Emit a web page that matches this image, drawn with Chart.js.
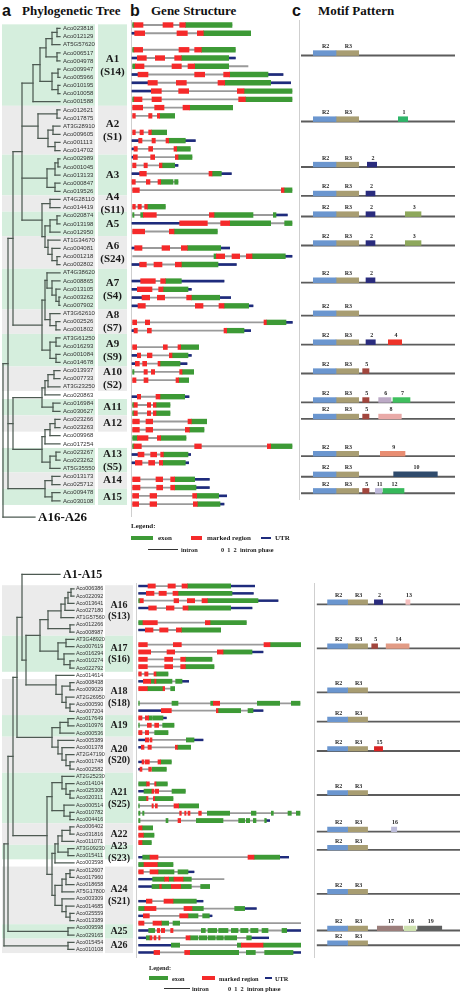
<!DOCTYPE html>
<html>
<head>
<meta charset="utf-8">
<title>Phylogenetic tree, gene structure and motif pattern</title>
<script src="https://cdn.jsdelivr.net/npm/chart.js@4.4.1/dist/chart.umd.min.js"></script>
<style>
  html, body { margin: 0; padding: 0; background: #fff; }
  body { position: relative; width: 461px; height: 992px; overflow: hidden; }
  canvas { position: absolute; }
  .txt { position: absolute; white-space: nowrap; line-height: 1; color: #111; }
  .letter { font: bold 16px "Liberation Sans", Arial, sans-serif; }
  .head { font: bold 13px "Liberation Serif", "Times New Roman", serif; }
  .leg { font: bold 7px "Liberation Serif", serif; color: #222; }
  .legs { font: bold 6.3px "Liberation Serif", serif; color: #222; }
  .sw { position: absolute; }
  .vline { position: absolute; width: 1.6px; background: #cfcfcf; }
</style>
</head>
<body>
<div class="txt letter" style="left:2px;top:1.5px">a</div>
<div class="txt head" style="left:22px;top:3px">Phylogenetic Tree</div>
<div class="txt letter" style="left:130px;top:1.5px">b</div>
<div class="txt head" style="left:151px;top:2.5px">Gene Structure</div>
<div class="txt letter" style="left:292px;top:1.5px">c</div>
<div class="txt head" style="left:318px;top:2.5px">Motif Pattern</div>

<div class="vline" style="left:130.5px;top:20px;height:497px"></div>
<div class="vline" style="left:298.5px;top:20px;height:480px"></div>
<div class="vline" style="left:135.5px;top:583px;height:375px"></div>
<div class="vline" style="left:313.5px;top:583px;height:375px"></div>

<canvas id="treeTop" width="128" height="520" style="left:0;top:13px"></canvas>
<canvas id="geneTop" width="173" height="520" style="left:128px;top:13px"></canvas>
<canvas id="motifTop" width="171" height="520" style="left:290px;top:13px"></canvas>
<canvas id="treeBot" width="134" height="407" style="left:0;top:560px"></canvas>
<canvas id="geneBot" width="173" height="407" style="left:128px;top:560px"></canvas>
<canvas id="motifBot" width="171" height="407" style="left:290px;top:560px"></canvas>

<!-- legend, top panel -->
<div class="txt leg" style="left:131px;top:521.5px">Legend:</div>
<div class="sw" style="left:131px;top:535.5px;width:22px;height:4.5px;background:#3d9a36"></div>
<div class="txt leg" style="left:158px;top:534.2px">exon</div>
<div class="sw" style="left:191px;top:535.5px;width:11px;height:4.5px;background:#f52a2a"></div>
<div class="txt leg" style="left:207px;top:534.2px">marked region</div>
<div class="sw" style="left:261px;top:537px;width:10px;height:1.8px;background:#1e2b7d"></div>
<div class="txt leg" style="left:275px;top:534.2px">UTR</div>
<div class="sw" style="left:148px;top:548.5px;width:30px;height:1px;background:#333"></div>
<div class="txt legs" style="left:181px;top:545.7px">intron</div>
<div class="txt legs" style="left:221px;top:545.7px">0&nbsp;&nbsp;1&nbsp;&nbsp;2&nbsp;&nbsp;intron phase</div>

<!-- legend, bottom panel -->
<div class="txt legs" style="left:149px;top:963.5px">Legend:</div>
<div class="sw" style="left:149px;top:976px;width:19px;height:4px;background:#3d9a36"></div>
<div class="txt legs" style="left:172px;top:975px">exon</div>
<div class="sw" style="left:202px;top:976px;width:13px;height:4px;background:#f52a2a"></div>
<div class="txt legs" style="left:219px;top:975px">marked region</div>
<div class="sw" style="left:265px;top:977.3px;width:7px;height:1.6px;background:#1e2b7d"></div>
<div class="txt legs" style="left:275px;top:975px">UTR</div>
<div class="sw" style="left:164px;top:988px;width:26px;height:1px;background:#333"></div>
<div class="txt legs" style="left:192px;top:985px">intron</div>
<div class="txt legs" style="left:228px;top:985px">0&nbsp;&nbsp;1&nbsp;&nbsp;2&nbsp;&nbsp;intron phase</div>

<script>
// ---------------- data: top panel (A1-A15) ----------------
const topNames = [
  'Aco023818','Aco012129','AT5G57620','Aco006517','Aco004978','Aco009947','Aco005966','Aco010195','Aco010058','Aco001588',
  'Aco012621','Aco017875','AT3G28910','Aco009605','Aco001113','Aco014702',
  'Aco002989','Aco001045','Aco013133','Aco000847','Aco019526',
  'AT4G28110','Aco014419',
  'Aco020874','Aco013198','Aco012950',
  'AT1G34670','Aco004081','Aco001218','Aco002802',
  'AT4G38620','Aco008865','Aco013105','Aco003262','Aco007902',
  'AT3G62610','Aco002526','Aco001802',
  'AT3G61250','Aco016293','Aco001084','Aco014678',
  'Aco013937','Aco007733','AT3G23250',
  'Aco020863','Aco016984','Aco030627',
  'Aco023266','Aco023263','Aco009968','Aco017254',
  'Aco023267','Aco023262','AT5G35550',
  'Aco013173','Aco025712','Aco009478','Aco030108'
];

// gene parts: u = UTR, e = exon, m = marked region, l = intron only
const topGeneParts = [
  'e14-18 m18-45 m105-135 m155-172 e172-312',
  'u12-20 m20-50 m147-178 m208-226 e226-368',
  '',
  'e14-18 m18-44 m153-183 m200-220 e220-322',
  'u12-28 m28-55 m82-110 m140-160 e160-302 u302-322',
  'e14-22 m22-48 m132-160 m180-200 e200-302 l302-360',
  'u12-30 m30-60 m200-230 m287-305 e305-420 u420-465',
  'u12-60 m60-88 m145-175 m270-290 e290-428 u428-488',
  'u12-70 m70-100 m152-182 m328-348 e348-492',
  'e14-18 m18-42 m72-100 m332-352 e352-492',
  'm14-44 m80-108 m165-185 e185-314',
  'm14-22 m62-72 m88-95 e95-140',
  '',
  'm14-22 m36-46 m62-70 e70-116',
  'u12-32 m32-42 m72-82 m114-122 e122-172 u172-202',
  'u12-18 m18-28 m62-74 m138-146 e146-187',
  'u12-16 m16-28 m68-80 m142-150 e150-192',
  'm14-24 m48-58 m94-102 e102-140 u140-150',
  'u12-35 m35-55 m243-252 e252-280 u280-310',
  'm12-22 m55-66 m90-98 e98-135 e140-150',
  'm14-34 m460-468 e468-492',
  '',
  'm14-22 m30-40 m50-58 e58-112',
  'e14-18 e38-46 m46-85 m244-258 e258-375 e436-444 u444-478',
  'u12-155 m155-238 m278-305 e305-428 e470-492',
  'm14-50 m124-138 e138-268',
  '',
  'u12-20 m20-42 m102-125 m160-178 e178-278 u278-305',
  'l14-258 e258-265 m265-290 m312-335 m355-372 e372-472 u472-492',
  'u12-35 m35-55 m78-102 m142-160 e160-270 u270-325',
  '',
  'u12-38 m38-82 m98-112 e112-160 u160-288',
  'u12-28 m28-72 m92-105 e105-180 u180-190',
  'u12-42 m42-65 m88-110 m176-190 e190-275 u275-308',
  'u12-30 m30-52 m202-225 m273-288 e288-362 u362-375',
  '',
  'm14-26 m52-65 m408-415 e415-474 u474-493',
  'u12-18 m18-28 m58-70 m288-296 e296-348 u348-368',
  '',
  'm14-26 m106-118 m150-158 e158-212',
  'u12-28 m28-38 m58-72 m124-132 e132-180 u180-190',
  'u12-22 m22-34 m44-56 m90-96 e96-156 u156-177',
  'e14-18 m48-58 m70-80 m155-162 e162-197',
  'm14-24 m48-60 m144-152 e152-182',
  '',
  'u12-28 m28-38 m84-96 e96-170 u170-183',
  'e14-18 m18-28 m58-68 m76-84 e84-126',
  'e14-18 m18-28 m58-68 m76-84 e84-126',
  'm14-34 m54-74 m180-190 e190-236',
  'm14-34 m54-74 m172-184 e184-228',
  'e14-28 m28-60 m88-98 e98-174',
  'e14-18 m18-40 m200-220 m418-428 e428-492',
  'u12-30 m30-48 m68-86 m98-106 e106-180 u180-188',
  'u12-22 m22-42 m62-80 m94-104 e104-172 u172-182',
  '',
  'm14-36 m84-104 m128-140 e140-200 u200-244',
  'm14-36 m86-104 m128-140 e140-204 u204-244',
  'm14-32 m66-86 m194-206 e206-272 u272-296',
  'm14-32 m66-86 m196-208 e208-276 u276-288'
];

// tree nodes: [node depth, ...children]; leaves are gene names
const topTree =
  [3,
    [8,
      [13,
        [22,
          [33,
            [40,
              [46, [52, [57, 'Aco023818', 'Aco012129'], 'AT5G57620'], [57, 'Aco006517', 'Aco004978']],
              [52, [58, 'Aco009947', 'Aco005966'], [58, 'Aco010195', 'Aco010058']]],
            'Aco001588'],
          [38, [57, 'Aco012621', 'Aco017875'], [48, [53, 'AT3G28910', 'Aco009605'], [55, 'Aco001113', 'Aco014702']]],
          [47, [55, [58, 'Aco002989', 'Aco001045'], 'Aco013133'], [55, 'Aco000847', 'Aco019526']],
          [42, [50, 'AT4G28110', 'Aco014419'],
            [45, [50, [57, 'Aco020874', 'Aco013198'], 'Aco012950'],
              [48, 'AT1G34670', [52, 'Aco004081', [57, 'Aco001218', 'Aco002802']]]]]],
        [42,
          [45, [47, 'AT4G38620', [52, 'Aco008865', [56, 'Aco013105', [59, 'Aco003262', 'Aco007902']]]],
            [50, 'AT3G62610', [56, 'Aco002526', 'Aco001802']]],
          [50, [56, 'AT3G61250', 'Aco016293'], [56, 'Aco001084', 'Aco014678']]]],
      [13,
        [42, [45, [48, [54, 'Aco013937', 'Aco007733'], 'AT3G23250'], 'Aco020863'], [53, 'Aco016984', 'Aco030627']],
        [42, [45, [50, [55, 'Aco023266', 'Aco023263'], 'Aco009968'], 'Aco017254'],
          [50, [56, 'Aco023267', 'Aco023262'], 'AT5G35550']]],
      [45, [52, 'Aco013173', 'Aco025712'], [52, 'Aco009478', 'Aco030108']]],
    'A16-A26'];

const topCladeName  = ['A1','A2','A3','A4','A5','A6','A7','A8','A9','A10','A11','A12','A13','A14','A15'];
const topCladeSub   = ['(S14)','(S1)','','(S11)','','(S24)','(S4)','(S7)','(S9)','(S2)','','','(S5)','',''];
const topCladeFirst = [0, 10, 16, 21, 23, 26, 30, 35, 38, 42, 46, 48, 52, 55, 57];
const topCladeLast  = [9, 15, 20, 22, 25, 29, 34, 37, 41, 44, 47, 49, 54, 56, 58];

const topMotifTrack = [1, 2, 3, 4, 4, 5, 5, 6, 8, 8, 9, 10, 10, 10, 11, 11, 12, 13, 14, 14, 14];
const topMotifName  = ['1','2','2','2','3','2','3','2','2','4','5','5','6','7','5','8','9','10','5','11','12'];
const topMotifStart = [292, 199, 195, 195, 313, 195, 313, 195, 195, 262, 185, 185, 233, 276, 185, 233, 238, 278, 185, 223, 246];
const topMotifEnd   = [320, 227, 222, 222, 360, 222, 360, 222, 223, 302, 204, 204, 270, 327, 204, 301, 312, 409, 204, 243, 309];

// ---------------- data: bottom panel (A16-A26) ----------------
const botNames = [
  'Aco006386','Aco022092','Aco013641','Aco027180','AT1G57560','Aco012266','Aco008987',
  'AT3G48920','Aco007619','Aco016294','Aco010274','Aco022792',
  'Aco014614',
  'Aco008438','Aco009029','AT2G26950','Aco000590','Aco007204',
  'Aco017649','Aco010976','Aco000536',
  'Aco005389','Aco001378','AT2G47190','Aco001748','Aco002582',
  'AT2G25230','Aco014104','Aco025308','Aco020311','Aco000514','Aco010782','Aco004416',
  'Aco006402','Aco031816','Aco011071',
  'AT3G09230','Aco015411',
  'Aco003598',
  'Aco012607','Aco017960','Aco018658','AT5G17800','Aco003309','Aco014685','Aco025559','Aco013389',
  'Aco009598','Aco029165',
  'Aco015454','Aco010108'
];

const botGeneParts = [
  'u32-60 m60-82 m120-142 m162-178 e178-308 u308-380',
  'u32-55 m55-78 m93-115 m135-150 e150-312 u312-376',
  'e32-36 m36-46 m138-152 m178-200 m222-238 e238-390 u390-450',
  'u32-62 m62-85 m115-138 m165-180 e180-308 u308-372',
  '',
  'e32-45 m45-88 m232-246 e246-355',
  'u32-52 m52-75 m95-120 m145-160 e160-278',
  '',
  'm32-58 m136-160 m408-426 e426-518',
  'm32-68 m117-140 m268-285 e285-372 u372-405',
  'm32-58 m110-134 m158-172 e172-252',
  'm32-58 m110-134 m158-172 e172-258',
  'm32-40 m50-60 m78-84 e84-120',
  'u32-46 m46-68 e68-80 m80-84 e84-132 e143-162 u162-182',
  'm32-58 e58-105 m105-110 e128-140',
  '',
  'e32-34 e132-150 e248-256 m256-275 e388-455 e490-516',
  'u32-100 m100-130 m265-270 e270-338 e360-375 u375-405',
  'm32-42 m52-62 e62-72 e74-105 u105-115',
  'e32-34 m58-70 m80-92 e104-138',
  'm32-42 m52-62 e80-120',
  'u32-52 m52-62 m66-72 e175-198 u198-225',
  'u32-40 m40-48 m60-70 m142-148 e148-188',
  '',
  'u32-42 m42-48 m52-64 m90-98 e98-130',
  'u32-36 m36-42 m62-70 e72-115',
  '',
  'e32-56 m56-64 m80-84 e84-118',
  'u32-48 e48-72 m72-78 m82-92 e132-172',
  'e32-56 m56-60 m76-80 e80-135',
  'e32-34 m72-76 m82-88 m138-152 e152-212',
  'e32-36 e44-48 m155-160 m170-174 m180-186 m212-220 e238-305 e370-384 e430-436 e480-490 e505-516',
  'e32-36 e114-120 m150-158 e205-285 e332-350 e355-365 e376-384 e410-415 u415-425',
  'm32-42 e42-74',
  'm32-46 e46-78',
  'm32-42 e42-70',
  '',
  'u32-44 e44-66 m66-90 m360-378 e378-455 u455-482',
  'e32-48 m48-88 e88-135',
  'm32-46 m66-90 e90-138 e150-180 u180-198',
  'u32-74 e74-110 m110-122 e122-138 m138-165 e165-190 l190-288',
  'u32-72 e72-95 m95-100 e100-130 m130-158 e158-190 e218-245',
  '',
  'u32-55 m55-72 m108-135 e135-205 u205-225',
  'e32-50 m50-84 m168-192 e192-226 e320-350 u350-385',
  'u32-46 m46-64 m155-180 e180-210 e224-244 u244-252',
  'm32-48 m75-100 e100-122 e135-155 l155-518',
  'u32-62 e62-80 m88-95 m100-110 m128-135 e220-232 e240-266 e272-300 e310-330 e338-360 e368-390 e402-420 e462-476 u476-518',
  'u32-55 e55-66 m66-72 m78-84 m92-96 m174-186 e186-210 e214-236 e240-262 e266-286 e290-314 e316-326 e356-370 u370-422',
  'u32-130 e130-155 e328-340 m340-405 e405-518',
  'u32-78 m78-95 m170-185 e185-332 e355-382 e410-495 u495-518'
];

const botTree =
  [4,
    [8,
      [13,
        [17,
          [22, 'A1-A15',
            [26,
              [40,
                [48, [61, [65, [68, [71, 'Aco006386', 'Aco022092'], 'Aco013641'], 'Aco027180'], 'AT1G57560'],
                  [70, 'Aco012266', 'Aco008987']],
                [58, [66, 'AT3G48920', 'Aco007619'], [64, 'Aco016294', [70, 'Aco010274', 'Aco022792']]]],
              [56, 'Aco014614', [62, [70, 'Aco008438', 'Aco009029'], [66, 'AT2G26950', [70, 'Aco000590', 'Aco007204']]]]]],
          [52, [60, [68, 'Aco017649', 'Aco010976'], 'Aco000536'],
            [58, 'Aco005389', [62, 'Aco001378', [66, 'AT2G47190', [70, 'Aco001748', 'Aco002582']]]]]],
        [47,
          [52, [62, 'AT2G25230', [66, 'Aco014104', [70, 'Aco025308', 'Aco020311']]],
            [64, 'Aco000514', [70, 'Aco010782', 'Aco004416']]],
          [52,
            [55, [58, [62, [70, 'Aco006402', 'Aco031816'], 'Aco011071'], [68, 'AT3G09230', 'Aco015411']], 'Aco003598'],
            [55, [62, [66, [70, 'Aco012607', 'Aco017960'], 'Aco018658'], 'AT5G17800'],
              [62, 'Aco003309', [66, 'Aco014685', [70, 'Aco025559', 'Aco013389']]]]]]],
      [68, 'Aco009598', 'Aco029165']],
    [68, 'Aco015454', 'Aco010108']];

const botCladeName  = ['A16','A17','A18','A19','A20','A21','A22','A23','A24','A25','A26'];
const botCladeSub   = ['(S13)','(S16)','(S18)','','(S20)','(S25)','','(S23)','(S21)','',''];
const botCladeFirst = [0, 7, 13, 18, 21, 26, 33, 36, 39, 47, 49];
const botCladeLast  = [6, 11, 17, 20, 25, 32, 35, 37, 46, 48, 50];

const botMotifTrack = [0, 0, 1, 1, 4, 6, 9, 9, 9];
const botMotifName  = ['2','13','5','14','15','16','17','18','19'];
const botMotifStart = [196, 303, 187, 236, 196, 254, 206, 297, 343];
const botMotifEnd   = [224, 317, 207, 314, 224, 272, 292, 337, 425];

// conserved R2R3 domain, shared by every clade
const domainName  = ['R2', 'R3'];
const domainStart = [37, 105];
const domainEnd   = [105, 173];

// ---------------- styles ----------------
const RED = '#f52a2a', GREEN = '#3d9a36', NAVY = '#1e2b7d', INTRON = '#9a9a9a';
const TREE = '#4d5a52';
const SHADE_GREEN = '#d5eedd', SHADE_GREY = '#ebebeb';
const DOMAIN_COLORS = ['#6b96cf', '#a89d72'];
const motifColors = {
  '1': '#2fb56a', '2': '#2a2c7e', '3': '#8ea85c', '4': '#ee3329', '5': '#a2463d', '6': '#bcaac6',
  '7': '#3fbf5e', '8': '#e9aaa8', '9': '#e98d72', '10': '#2f4b6c', '11': '#bdb8da', '12': '#36b85a',
  '13': '#f6c0bf', '14': '#e29c86', '15': '#d82222', '16': '#bcbcda', '17': '#9b7e7b', '18': '#cde0ae',
  '19': '#5f6060'
};

const baseOptions = {
  responsive: false,
  animation: false,
  devicePixelRatio: 1,
  events: [],
  plugins: { legend: { display: false }, tooltip: { enabled: false } }
};

// ---------------- gene structure ----------------
function parseGenes(parts) {
  const sets = { m: [], e: [], u: [], i: [] };
  parts.forEach((p, row) => {
    if (!p) return;
    let lo = Infinity, hi = -Infinity;
    p.split(' ').forEach(tok => {
      const kind = tok[0];
      const [s, e] = tok.slice(1).split('-').map(Number);
      lo = Math.min(lo, s);
      hi = Math.max(hi, e);
      if (kind !== 'l') sets[kind].push({ x: [s, e], y: row });
    });
    sets.i.push({ x: [lo, hi], y: row });
  });
  return sets;
}

function makeGeneChart(id, parts, yMin, yMax, thick) {
  const s = parseGenes(parts);
  const ds = (data, color, t, order) => ({ data, backgroundColor: color, barThickness: t, grouped: false, order });
  new Chart(document.getElementById(id), {
    type: 'bar',
    data: {
      datasets: [
        ds(s.m, RED, thick.exon, 0),
        ds(s.e, GREEN, thick.exon, 1),
        ds(s.u, NAVY, thick.utr, 2),
        ds(s.i, INTRON, thick.intron, 3)
      ]
    },
    options: {
      ...baseOptions,
      indexAxis: 'y',
      scales: {
        x: { type: 'linear', min: 0, max: 519, display: false },
        y: { type: 'linear', min: yMin, max: yMax, reverse: true, offset: false, display: false }
      }
    }
  });
}

// ---------------- tree ----------------
function buildTree(node, rowOf, leafEnd, segs) {
  if (typeof node === 'string') return { x: leafEnd(node), y: rowOf[node] };
  const [x, ...kids] = node;
  const pts = kids.map(k => buildTree(k, rowOf, leafEnd, segs));
  const y0 = pts[0].y, y1 = pts[pts.length - 1].y;
  segs.push([{ x, y: y0 }, { x, y: y1 }]);
  pts.forEach(p => segs.push([{ x, y: p.y }, { x: p.x, y: p.y }]));
  return { x, y: (y0 + y1) / 2 };
}

function cladePlugin(cfg) {
  return {
    id: 'clades',
    beforeDraw(chart) {
      const { ctx } = chart;
      const y = chart.scales.y;
      ctx.save();
      cfg.first.forEach((f, k) => {
        const top = y.getPixelForValue(f - 0.5);
        const bot = y.getPixelForValue(cfg.last[k] + 0.5);
        ctx.fillStyle = (k + cfg.parity) % 2 ? SHADE_GREY : SHADE_GREEN;
        ctx.fillRect(cfg.shade[0], top, cfg.shade[1] - cfg.shade[0], bot - top);
        ctx.fillRect(cfg.box[0], top, cfg.box[1] - cfg.box[0], bot - top);
      });
      ctx.restore();
    },
    afterDraw(chart) {
      const { ctx } = chart;
      const y = chart.scales.y, x = chart.scales.x;
      ctx.save();
      ctx.fillStyle = '#1b1b1b';
      ctx.textAlign = 'center';
      ctx.textBaseline = 'middle';
      ctx.font = `bold ${cfg.labelSize}px "Liberation Serif", serif`;
      const cx = (cfg.box[0] + cfg.box[1]) / 2;
      cfg.first.forEach((f, k) => {
        const mid = y.getPixelForValue((f + cfg.last[k]) / 2);
        if (cfg.sub[k]) {
          ctx.fillText(cfg.name[k], cx, mid - cfg.labelSize * 0.55);
          ctx.fillText(cfg.sub[k], cx, mid + cfg.labelSize * 0.6);
        } else {
          ctx.fillText(cfg.name[k], cx, mid);
        }
      });
      ctx.textAlign = 'left';
      ctx.fillStyle = '#111';
      ctx.font = `bold ${cfg.outSize}px "Liberation Serif", serif`;
      ctx.fillText(cfg.outName, x.getPixelForValue(cfg.outEnd) + 3, y.getPixelForValue(cfg.outRow) + 0.5);
      ctx.restore();
    }
  };
}

function makeTreeChart(id, cfg) {
  const rowOf = {};
  cfg.names.forEach((n, i) => { rowOf[n] = i; });
  rowOf[cfg.outName] = cfg.outRow;
  const segs = [];
  buildTree(cfg.tree, rowOf, n => (n === cfg.outName ? cfg.outEnd : cfg.leafX), segs);
  const datasets = segs.map(pts => ({
    data: pts, showLine: true, borderColor: TREE, borderWidth: 1.25, pointRadius: 0, borderCapStyle: 'square'
  }));
  new Chart(document.getElementById(id), {
    type: 'scatter',
    data: { datasets },
    options: {
      ...baseOptions,
      scales: {
        x: { type: 'linear', min: 0, max: cfg.xMax, display: false },
        y: {
          type: 'linear', position: 'right', min: cfg.yMin, max: cfg.yMax, reverse: true,
          grid: { display: false, drawTicks: false }, border: { display: false },
          afterFit: sc => { sc.width = cfg.axisW; },
          ticks: {
            stepSize: 1, autoSkip: false, padding: 0, color: '#333',
            font: { family: '"Liberation Sans", Arial, sans-serif', size: cfg.fontSize },
            callback: v => (Number.isInteger(v) && cfg.names[v]) ? cfg.names[v] : null
          }
        }
      }
    },
    plugins: [cladePlugin(cfg)]
  });
}

// ---------------- motif pattern ----------------
const motifLabelPlugin = {
  id: 'motifLabels',
  afterDatasetsDraw(chart) {
    const { ctx } = chart;
    ctx.save();
    ctx.fillStyle = '#2a2a2a';
    ctx.textAlign = 'center';
    ctx.textBaseline = 'bottom';
    ctx.font = 'bold 6px "Liberation Serif", serif';
    chart.data.datasets.forEach((d, i) => {
      if (!d.tags) return;
      chart.getDatasetMeta(i).data.forEach((el, j) => {
        const p = el.getProps(['x', 'y', 'base', 'height'], true);
        ctx.fillText(d.tags[j], (p.x + p.base) / 2 + 1, p.y - p.height / 2 - 1.2);
      });
    });
    ctx.restore();
  }
};

function makeMotifChart(id, cfg) {
  const canvas = document.getElementById(id);
  const rowPx = canvas.height / (cfg.yMax - cfg.yMin);
  const track = cfg.first.map((f, k) => (f + cfg.last[k]) / 2 - cfg.shift);
  const lift = (cfg.boxT / 2) / rowPx;
  const domainSets = domainName.map((nm, d) => ({
    data: track.map(t => ({ x: [domainStart[d] * cfg.dScale, domainEnd[d] * cfg.dScale], y: t })),
    backgroundColor: DOMAIN_COLORS[d], barThickness: cfg.boxT, grouped: false, order: 1,
    tags: track.map(() => nm)
  }));
  new Chart(canvas, {
    type: 'bar',
    data: {
      datasets: [
        {
          data: cfg.mTrack.map((k, j) => ({ x: [cfg.mStart[j], cfg.mEnd[j]], y: track[k] })),
          backgroundColor: cfg.mName.map(n => motifColors[n]),
          barThickness: cfg.boxT, grouped: false, order: 0, tags: cfg.mName
        },
        ...domainSets,
        {
          data: track.map(t => ({ x: [0, cfg.baseLen], y: t + lift })),
          backgroundColor: '#5c5c5c', barThickness: 1.2, grouped: false, order: 3
        }
      ]
    },
    options: {
      ...baseOptions,
      indexAxis: 'y',
      layout: { padding: { left: cfg.padL, right: cfg.padR, top: 0, bottom: 0 } },
      scales: {
        x: { type: 'linear', min: 0, max: cfg.baseLen, display: false },
        y: { type: 'linear', min: cfg.yMin, max: cfg.yMax, reverse: true, offset: false, display: false }
      }
    },
    plugins: [motifLabelPlugin]
  });
}

// ---------------- build ----------------
const TOP_Y = [-1.45, 61.5];
const BOT_Y = [-3.55, 51.98];

makeTreeChart('treeTop', {
  tree: topTree, names: topNames, outName: 'A16-A26', outRow: 60, outEnd: 35, outSize: 13,
  leafX: 60, xMax: 63, axisW: 65, yMin: TOP_Y[0], yMax: TOP_Y[1], fontSize: 6,
  first: topCladeFirst, last: topCladeLast, name: topCladeName, sub: topCladeSub, parity: 0,
  shade: [2, 95], box: [98, 127], labelSize: 11
});
makeGeneChart('geneTop', topGeneParts, TOP_Y[0], TOP_Y[1], { exon: 4.7, utr: 2, intron: 1.2 });
makeMotifChart('motifTop', {
  first: topCladeFirst, last: topCladeLast, shift: 1.1, boxT: 4.8, yMin: TOP_Y[0], yMax: TOP_Y[1],
  mTrack: topMotifTrack, mName: topMotifName, mStart: topMotifStart, mEnd: topMotifEnd,
  baseLen: 462, dScale: 1, padL: 11, padR: 6
});

makeTreeChart('treeBot', {
  tree: botTree, names: botNames, outName: 'A1-A15', outRow: -2, outEnd: 60, outSize: 12,
  leafX: 74, xMax: 76, axisW: 58, yMin: BOT_Y[0], yMax: BOT_Y[1], fontSize: 5.4,
  first: botCladeFirst, last: botCladeLast, name: botCladeName, sub: botCladeSub, parity: 1,
  shade: [2, 103], box: [105, 133], labelSize: 10
});
makeGeneChart('geneBot', botGeneParts, BOT_Y[0], BOT_Y[1], { exon: 4.2, utr: 1.8, intron: 1.1 });
makeMotifChart('motifBot', {
  first: botCladeFirst, last: botCladeLast, shift: 0.8, boxT: 4.5, yMin: BOT_Y[0], yMax: BOT_Y[1],
  mTrack: botMotifTrack, mName: botMotifName, mStart: botMotifStart, mEnd: botMotifEnd,
  baseLen: 487, dScale: 1, padL: 26.7, padR: 1
});
</script>
</body>
</html>
